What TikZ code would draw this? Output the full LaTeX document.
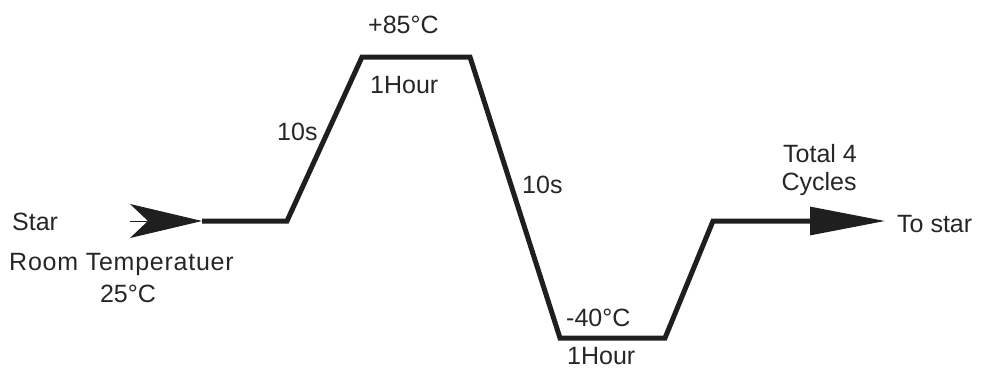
\documentclass[tikz,border=0pt]{standalone}
\usepackage{fontspec}
\setmainfont{Liberation Sans}
\usetikzlibrary{arrows.meta}

\begin{document}
\begin{tikzpicture}[x=1pt, y=-1pt, font=\fontsize{25}{27}\selectfont]
\tikzstyle{profile}=[line width=5pt, line join=miter, color=black!88]
\tikzstyle{lbl}=[inner sep=0pt, anchor=base west, color=black!85]
\useasboundingbox (0,0) rectangle (988,368);
% corners of the temperature profile
\coordinate (tail) at (130,221);
\coordinate (ltip) at (202,221);
\coordinate (rt) at (287,221);
\coordinate (hotin) at (362,57);
\coordinate (hotout) at (470,57);
\coordinate (coldin) at (560,338);
\coordinate (coldout) at (665,338);
\coordinate (back) at (713,221);
\coordinate (head) at (885,221);
% labels
\node[lbl] (star) at (12,230) {Star};
\node[lbl] (room) at (9,270) {\addfontfeature{LetterSpace=3}Room Temperatuer};
\node[lbl, anchor=base] (rtemp) at (128,302) {25°C};
\node[lbl] (rise) at (277,140) {10s};
\node[lbl] (hot) at (368,33) {+85°C};
\node[lbl] (hothour) at (370,93) {1Hour};
\node[lbl] (fall) at (522,193) {10s};
\node[lbl] (cold) at (566,326) {-40°C};
\node[lbl] (coldhour) at (567,364) {1Hour};
\node[lbl, anchor=base] (total) at (820,162) {Total 4};
\node[lbl, anchor=base] (cycles) at (819,190) {Cycles};
\node[lbl] (tostar) at (897,232) {To star};
% profile
\draw[profile, line width=1pt, -{Stealth[length=72pt 0, width=34pt 0, inset=18pt 0]}] (tail) -- (ltip);
\draw[profile] (ltip) -- (rt) -- (hotin) -- (hotout) -- (coldin) -- (coldout) -- (back) -- (810,221);
\draw[profile, line width=3pt, -{Triangle[length=75pt 0, width=28pt 0]}] (back) -- (head);
\end{tikzpicture}
\end{document}
